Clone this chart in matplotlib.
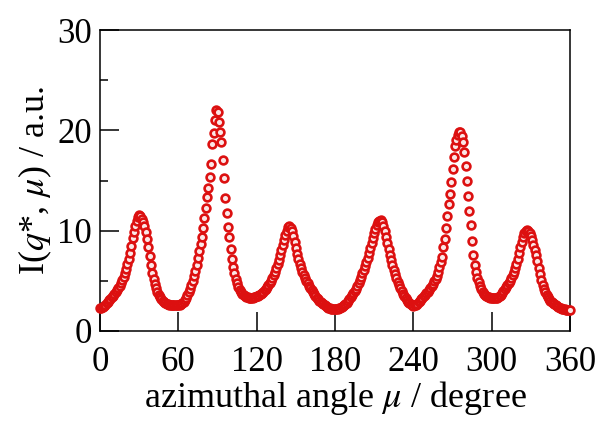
import numpy as np
import matplotlib
matplotlib.use("Agg")
import matplotlib.pyplot as plt
from matplotlib.ticker import MultipleLocator

plt.rcParams['font.family'] = ['Liberation Serif', 'DejaVu Serif']
plt.rcParams['mathtext.fontset'] = 'stix'

# azimuthal angle, 1 degree steps
angle = np.arange(0, 361, 1)

# intensity, 10 values per row
intensity = [
    2.3, 2.3, 2.4, 2.5, 2.6, 2.8, 2.9, 3.1, 3.2, 3.4,        # 0-9
    3.5, 3.7, 3.9, 4.1, 4.3, 4.5, 4.8, 5.1, 5.4, 5.8,        # 10-19
    6.2, 6.7, 7.2, 7.8, 8.5, 9.3, 9.9, 10.5, 11.0, 11.4,     # 20-29
    11.6, 11.5, 11.2, 10.9, 10.5, 9.9, 9.2, 8.4, 7.5, 6.6,   # 30-39
    5.8, 5.2, 4.7, 4.3, 3.9, 3.6, 3.4, 3.2, 3.0, 2.9,        # 40-49
    2.8, 2.7, 2.7, 2.6, 2.6, 2.6, 2.6, 2.6, 2.6, 2.6,        # 50-59
    2.6, 2.6, 2.7, 2.8, 2.9, 3.1, 3.3, 3.6, 3.9, 4.2,        # 60-69
    4.6, 5.0, 5.5, 6.0, 6.6, 7.3, 8.0, 8.7, 9.4, 10.3,       # 70-79
    11.3, 12.3, 13.4, 14.3, 15.3, 16.6, 18.6, 19.7, 21.0, 22.0,  # 80-89
    21.8, 20.8, 19.8, 18.8, 17.0, 15.2, 13.3, 11.8, 10.4, 9.4,   # 90-99
    8.2, 7.2, 6.4, 5.8, 5.2, 4.8, 4.4, 4.1, 3.9, 3.7,        # 100-109
    3.6, 3.5, 3.4, 3.4, 3.3, 3.3, 3.3, 3.3, 3.4, 3.4,        # 110-119
    3.5, 3.5, 3.6, 3.7, 3.8, 3.9, 4.1, 4.2, 4.4, 4.6,        # 120-129
    4.8, 5.0, 5.3, 5.6, 5.9, 6.3, 6.7, 7.1, 7.6, 8.1,        # 130-139
    8.6, 9.1, 9.6, 10.0, 10.4, 10.5, 10.3, 10.0, 9.5, 8.9,   # 140-149
    8.3, 7.7, 7.2, 6.7, 6.3, 5.9, 5.6, 5.3, 5.0, 4.8,        # 150-159
    4.5, 4.3, 4.1, 3.9, 3.7, 3.5, 3.3, 3.2, 3.0, 2.9,        # 160-169
    2.8, 2.7, 2.6, 2.5, 2.4, 2.3, 2.3, 2.2, 2.2, 2.2,        # 170-179
    2.2, 2.2, 2.2, 2.3, 2.3, 2.4, 2.5, 2.6, 2.7, 2.8,        # 180-189
    3.0, 3.2, 3.4, 3.6, 3.8, 4.0, 4.2, 4.5, 4.8, 5.1,        # 190-199
    5.4, 5.8, 6.1, 6.5, 6.9, 7.3, 7.8, 8.3, 8.8, 9.3,        # 200-209
    9.8, 10.2, 10.6, 10.9, 11.0, 11.1, 10.9, 10.5, 10.0, 9.4,  # 210-219
    8.8, 8.2, 7.6, 7.1, 6.6, 6.1, 5.7, 5.3, 4.9, 4.6,        # 220-229
    4.3, 4.0, 3.7, 3.5, 3.3, 3.1, 2.9, 2.8, 2.7, 2.6,        # 230-239
    2.5, 2.6, 2.6, 2.7, 2.9, 3.0, 3.2, 3.3, 3.5, 3.6,        # 240-249
    3.8, 3.9, 4.1, 4.3, 4.5, 4.7, 5.0, 5.2, 5.5, 5.9,        # 250-259
    6.4, 6.9, 7.4, 8.4, 9.2, 10.3, 11.5, 12.7, 13.7, 14.9,   # 260-269
    16.1, 17.3, 18.4, 19.0, 19.5, 19.8, 19.8, 19.4, 18.8, 17.8,  # 270-279
    16.4, 15.0, 13.5, 12.0, 10.6, 9.0, 7.6, 6.6, 5.9, 5.3,   # 280-289
    4.9, 4.5, 4.2, 3.9, 3.7, 3.6, 3.5, 3.4, 3.4, 3.3,        # 290-299
    3.3, 3.3, 3.3, 3.3, 3.3, 3.4, 3.5, 3.6, 3.8, 4.0,        # 300-309
    4.2, 4.4, 4.6, 4.8, 5.0, 5.3, 5.6, 5.9, 6.3, 6.7,        # 310-319
    7.2, 7.8, 8.4, 8.9, 9.4, 9.8, 10.0, 10.1, 10.0, 9.8,     # 320-329
    9.5, 9.1, 8.6, 8.1, 7.6, 7.0, 6.3, 5.7, 5.1, 4.6,        # 330-339
    4.2, 3.9, 3.6, 3.4, 3.2, 3.0, 2.9, 2.8, 2.7, 2.6,        # 340-349
    2.5, 2.4, 2.3, 2.3, 2.2, 2.2, 2.2, 2.1, 2.1, 2.1,        # 350-359
    2.1,                                                     # 360
]

x_ticks = [0, 60, 120, 180, 240, 300, 360]
y_ticks = [0, 10, 20, 30]

fig = plt.figure(figsize=(6.0, 4.21), dpi=100)
ax = fig.add_axes([0.1667, 0.2138, 0.7833, 0.7149])

ax.plot(angle, intensity, linestyle="none", marker="o", markersize=5.6,
        markerfacecolor="#fbe6e6", markeredgecolor="#dc1010",
        markeredgewidth=1.9, clip_on=False, zorder=3)

ax.set_xlim(0, 360)
ax.set_ylim(0, 30)
ax.set_xticks(x_ticks)
ax.set_yticks(y_ticks)
ax.yaxis.set_minor_locator(MultipleLocator(5))

ax.tick_params(axis="both", which="major", direction="in", length=14,
               width=1.1, labelsize=25)
ax.tick_params(axis="x", which="major", pad=11)
ax.tick_params(axis="y", which="major", pad=6)
ax.tick_params(axis="y", which="minor", direction="in", length=6, width=1.1)
for s in ax.spines.values():
    s.set_linewidth(1.1)

ax.set_xlabel(r"azimuthal angle $\mu$ / degree", fontsize=26, labelpad=0)
ax.set_ylabel(r"I($q$*, $\mu$) / a.u.", fontsize=26, labelpad=2)

fig.savefig("out.png", dpi=100)
